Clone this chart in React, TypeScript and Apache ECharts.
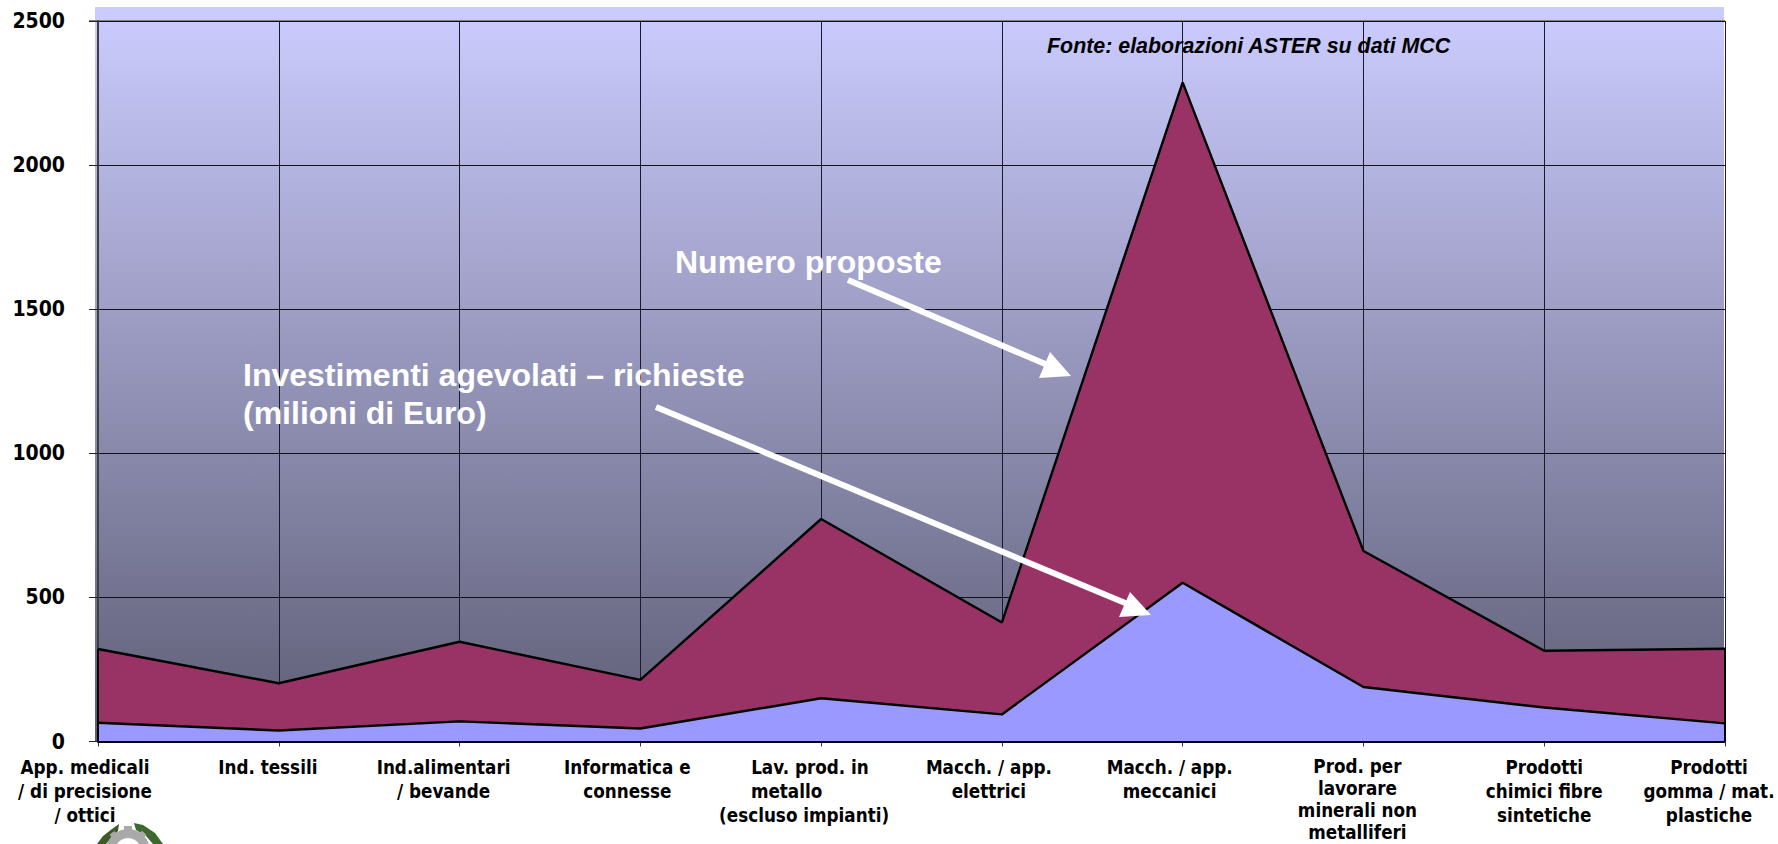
import React, { useEffect, useRef } from "react";
import * as echarts from "echarts";

const categories = [
  "App. medicali\n/ di precisione\n/ ottici",
  "Ind. tessili",
  "Ind.alimentari\n/ bevande",
  "Informatica e\nconnesse",
  "  Lav. prod. in\nmetallo      \n(escluso impianti)",
  "Macch. / app.\nelettrici",
  "Macch. / app.\nmeccanici",
  "Prod. per\nlavorare\nminerali non\nmetalliferi",
  "Prodotti\nchimici fibre\nsintetiche",
  "Prodotti\ngomma / mat.\nplastiche",
];
// Left shift of each category label relative to its tick, in pixels.
const labelShift = [13, 11, 16, 13, 17, 13, 13, 6, 0, 16];
// Line height of each category label; the four-line one is set tighter so it stays on the page.
const labelLineHeight = [24, 24, 24, 24, 24, 24, 24, 22, 24, 24];

const numeroProposte = [321, 202, 346, 214, 772, 413, 2287, 661, 315, 322];
const investimenti = [65, 38, 70, 45, 150, 94, 551, 189, 118, 63];

const axisFont = "'DejaVu Sans Condensed', 'DejaVu Sans', sans-serif";
const noteFont = "'Liberation Sans', Arial, sans-serif";

const arrow = (
  from: number[],
  neck: number[],
  tip: number[],
  wingA: number[],
  wingB: number[],
) => [
  {
    type: "line",
    z: 10,
    shape: { x1: from[0], y1: from[1], x2: neck[0], y2: neck[1] },
    style: { stroke: "#ffffff", lineWidth: 6 },
  },
  {
    type: "polygon",
    z: 10,
    shape: { points: [tip, wingA, wingB] },
    style: { fill: "#ffffff" },
  },
];

// Partial emblem sitting on the bottom edge of the page.
const emblem = [
  {
    type: "polygon",
    z: 1,
    shape: { points: [[119, 824], [112, 829], [103, 836], [97, 844], [106, 844], [112, 837], [118, 831]] },
    style: { fill: "#3f5a2a" },
  },
  {
    type: "polygon",
    z: 1,
    shape: { points: [[134, 823], [143, 825], [155, 833], [163, 844], [153, 844], [146, 836], [136, 830]] },
    style: { fill: "#3c6a2e" },
  },
  {
    type: "ring",
    z: 1,
    shape: { cx: 128, cy: 851, r: 22, r0: 13 },
    style: { fill: "#a9a9a9" },
  },
  {
    type: "rect",
    z: 1,
    shape: { x: 124, y: 826, width: 8, height: 5 },
    style: { fill: "#a9a9a9" },
  },
  {
    type: "rect",
    z: 1,
    shape: { x: 111, y: 832, width: 6, height: 6 },
    rotation: 0.7,
    originX: 114,
    originY: 835,
    style: { fill: "#a9a9a9" },
  },
  {
    type: "rect",
    z: 1,
    shape: { x: 139, y: 832, width: 6, height: 6 },
    rotation: -0.7,
    originX: 142,
    originY: 835,
    style: { fill: "#a9a9a9" },
  },
];

export default function App() {
  const ref = useRef<HTMLDivElement>(null);

  useEffect(() => {
    document.body.style.margin = "0";
    const chart = echarts.init(ref.current!, undefined, { renderer: "svg" });
    const first = categories[0];
    const last = categories[categories.length - 1];
    const borderStyle = { color: "#000000", width: 2, type: "solid" as const };
    chart.setOption({
      animation: false,
      grid: { left: 98, right: 53, top: 21, bottom: 102.5, outerBoundsMode: "none" },
      xAxis: {
        type: "category",
        boundaryGap: false,
        data: categories.map((value, i) => ({
          value,
          textStyle: { padding: [0, labelShift[i] * 2, 0, 0], lineHeight: labelLineHeight[i] },
        })),
        axisLine: { show: true, lineStyle: { color: "#333333", width: 2 } },
        axisTick: { show: true, alignWithLabel: true, length: 5, lineStyle: { color: "#333333" } },
        axisLabel: {
          interval: 0,
          margin: 14,
          hideOverlap: false,
          color: "#000000",
          fontFamily: axisFont,
          fontWeight: "bold",
          fontSize: 18.7,
          lineHeight: 24,
          align: "center",
        },
        splitLine: { show: true, lineStyle: { color: "#1a1a2a", width: 1 } },
      },
      yAxis: {
        type: "value",
        min: 0,
        max: 2500,
        interval: 500,
        axisLine: { show: true, lineStyle: { color: "#404040", width: 2 } },
        axisTick: { show: true, length: 9, lineStyle: { color: "#222222" } },
        axisLabel: {
          margin: 33,
          color: "#000000",
          fontFamily: axisFont,
          fontWeight: "bold",
          fontSize: 21,
          formatter: (v: number) => String(v),
        },
        splitLine: { show: true, lineStyle: { color: "#10101a", width: 1 } },
      },
      series: [
        {
          name: "Numero proposte",
          type: "line",
          data: numeroProposte,
          symbol: "none",
          lineStyle: { color: "#000000", width: 2.4 },
          areaStyle: { color: "#993366", opacity: 1 },
          z: 2,
        },
        {
          name: "Investimenti agevolati – richieste (milioni di Euro)",
          type: "line",
          data: investimenti,
          symbol: "none",
          lineStyle: { color: "#000000", width: 2.4 },
          areaStyle: { color: "#9999ff", opacity: 1 },
          z: 3,
          markLine: {
            silent: true,
            symbol: "none",
            label: { show: false },
            lineStyle: borderStyle,
            data: [
              [{ coord: [first, 0] }, { coord: [first, numeroProposte[0]] }],
              [{ coord: [last, 0] }, { coord: [last, numeroProposte[numeroProposte.length - 1]] }],
              [{ coord: [first, 0] }, { coord: [last, 0] }],
            ],
          },
        },
      ],
      graphic: [
        {
          type: "rect",
          z: -1,
          shape: { x: 95, y: 7, width: 1629, height: 734 },
          style: {
            fill: new echarts.graphic.LinearGradient(0, 0, 0, 1, [
              { offset: 0, color: "#ccccff" },
              { offset: 1, color: "#5d5d75" },
            ]),
          },
        },
        {
          type: "line",
          z: -0.5,
          shape: { x1: 89, y1: 21, x2: 1725, y2: 21 },
          style: { stroke: "#808080", lineWidth: 2 },
        },
        {
          type: "text",
          z: 10,
          x: 1047,
          y: 46,
          style: {
            text: "Fonte: elaborazioni ASTER su dati MCC",
            fill: "#000000",
            font: `italic bold 21.4px ${noteFont}`,
            textVerticalAlign: "middle",
          },
        },
        {
          type: "text",
          z: 10,
          x: 675,
          y: 262,
          style: {
            text: "Numero proposte",
            fill: "#ffffff",
            font: `bold 32px ${noteFont}`,
            textVerticalAlign: "middle",
          },
        },
        {
          type: "text",
          z: 10,
          x: 243,
          y: 375,
          style: {
            text: "Investimenti agevolati – richieste",
            fill: "#ffffff",
            font: `bold 32px ${noteFont}`,
            textVerticalAlign: "middle",
          },
        },
        {
          type: "text",
          z: 10,
          x: 243,
          y: 413,
          style: {
            text: "(milioni di Euro)",
            fill: "#ffffff",
            font: `bold 32px ${noteFont}`,
            textVerticalAlign: "middle",
          },
        },
        ...arrow([848, 280], [1050, 366], [1071, 376], [1050, 352], [1039, 378]),
        ...arrow([656, 407], [1130, 605], [1151, 615], [1130, 592], [1119, 617]),
        ...emblem,
      ],
    });
    return () => chart.dispose();
  }, []);

  return (
    <div
      ref={ref}
      style={{ position: "absolute", left: 0, top: 0, width: 1778, height: 844, background: "#ffffff" }}
    />
  );
}
